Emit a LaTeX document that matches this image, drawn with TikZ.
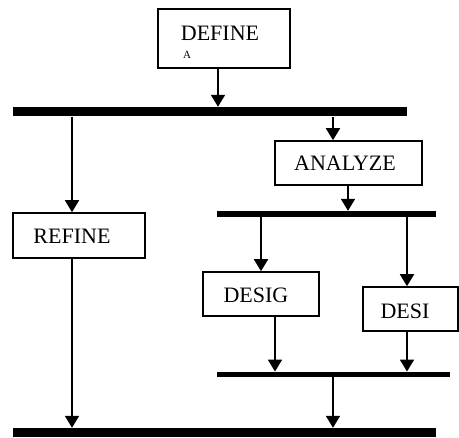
\documentclass[tikz,border=0pt]{standalone}
\usepackage{fontspec}
\setmainfont{Liberation Serif}
\usetikzlibrary{arrows.meta}
\begin{document}
\begin{tikzpicture}[x=1pt,y=-1pt,
  box/.style={draw=black,line width=1.6pt,fill=white,inner sep=0pt,anchor=center},
  bar/.style={fill=black,draw=none,inner sep=0pt,anchor=center},
  lbl/.style={inner sep=0pt,anchor=center,font=\fontsize{22}{26}\selectfont},
  arr/.style={line width=1.8pt,-{Triangle[width=14pt,length=12pt]}}]
\useasboundingbox (0,0) rectangle (459,438);

% process boxes
\node[box,minimum width=132pt,minimum height=59pt] (define) at (224,38.5) {};
\node[lbl] (defineT) at (220,33) {DEFINE};
\node[inner sep=0pt,font=\fontsize{11}{13}\selectfont] (defineA) at (187,55) {A};
\node[box,minimum width=132pt,minimum height=45pt] (refine) at (79,235.5) {};
\node[lbl] (refineT) at (72,236) {REFINE};
\node[box,minimum width=147pt,minimum height=44pt] (analyze) at (348.5,163) {};
\node[lbl] (analyzeT) at (345,163) {ANALYZE};
\node[box,minimum width=116pt,minimum height=44pt] (desig) at (261,294) {};
\node[lbl] (desigT) at (256,295) {DESIG};
\node[box,minimum width=95pt,minimum height=44pt] (desi) at (410.5,309) {};
\node[lbl] (desiT) at (405,311) {DESI};

% synchronisation bars
\node[bar,minimum width=394pt,minimum height=9.5pt] (bar1) at (210,111.75) {};
\node[bar,minimum width=219pt,minimum height=6pt] (bar2) at (326.5,214) {};
\node[bar,minimum width=233pt,minimum height=5.5pt] (bar3) at (333.5,374.5) {};
\node[bar,minimum width=423pt,minimum height=9pt] (bar4) at (224.5,432.5) {};

% flows
\draw[arr] (define.south -| 218,0) -- (bar1.north -| 218,0);
\draw[arr] (bar1.south -| 72,0) -- (refine.north -| 72,0);
\draw[arr] (bar1.south -| 333,0) -- (analyze.north -| 333,0);
\draw[arr] (analyze.south -| 348,0) -- (bar2.north -| 348,0);
\draw[arr] (bar2.south -| 261,0) -- (desig.north -| 261,0);
\draw[arr] (bar2.south -| 407,0) -- (desi.north -| 407,0);
\draw[arr] (desig.south -| 275,0) -- (bar3.north -| 275,0);
\draw[arr] (desi.south -| 407,0) -- (bar3.north -| 407,0);
\draw[arr] (bar3.south -| 333,0) -- (bar4.north -| 333,0);
\draw[arr] (refine.south -| 72,0) -- (bar4.north -| 72,0);
\end{tikzpicture}
\end{document}
